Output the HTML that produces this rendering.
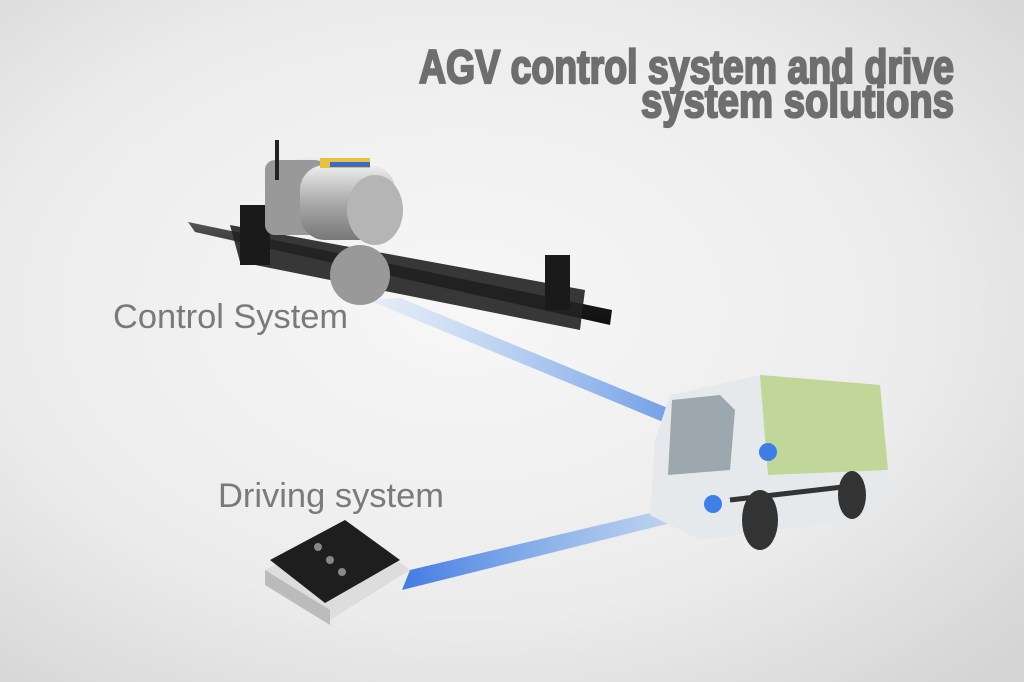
<!DOCTYPE html>
<html><head><meta charset="utf-8"><style>
html,body{margin:0;padding:0;width:1024px;height:682px;overflow:hidden}
</style></head><body>
<svg width="1024" height="682" viewBox="0 0 1024 682" xmlns="http://www.w3.org/2000/svg">
<defs>
<radialGradient id="bg" cx="0.45" cy="0.45" r="0.75">
<stop offset="0" stop-color="#f7f7f7"/><stop offset="0.6" stop-color="#ececec"/><stop offset="1" stop-color="#d4d4d4"/>
</radialGradient>
<linearGradient id="beam1" x1="0" y1="0" x2="1" y2="0">
<stop offset="0" stop-color="#6aa8f0" stop-opacity="0.1"/><stop offset="1" stop-color="#2f6fe0" stop-opacity="0.9"/>
</linearGradient>
<linearGradient id="beam2" x1="0" y1="0" x2="1" y2="0">
<stop offset="0" stop-color="#2f6fe0" stop-opacity="0.9"/><stop offset="1" stop-color="#7ab0f0" stop-opacity="0.3"/>
</linearGradient>
<linearGradient id="axle" x1="0" y1="0" x2="0" y2="1">
<stop offset="0" stop-color="#555"/><stop offset="0.4" stop-color="#222"/><stop offset="1" stop-color="#111"/>
</linearGradient>
<linearGradient id="motor" x1="0" y1="0" x2="0" y2="1">
<stop offset="0" stop-color="#eee"/><stop offset="0.5" stop-color="#aaa"/><stop offset="1" stop-color="#777"/>
</linearGradient>
</defs>
<rect width="1024" height="682" fill="url(#bg)"/>
<polygon points="368,300 400,298 770,450 760,462" fill="url(#beam1)"/>
<polygon points="410,570 402,590 715,512 705,500" fill="url(#beam2)"/>
<polygon points="188,222 195,232 610,325 612,310" fill="url(#axle)"/>
<polygon points="230,225 240,262 580,330 585,290" fill="#222" opacity="0.9"/>
<rect x="240" y="205" width="30" height="60" fill="#1a1a1a"/>
<rect x="545" y="255" width="25" height="55" fill="#1a1a1a"/>
<ellipse cx="310" cy="195" rx="45" ry="38" fill="url(#motor)"/>
<rect x="265" y="160" width="60" height="75" rx="10" fill="#999"/>
<rect x="300" y="165" width="95" height="75" rx="25" fill="url(#motor)"/>
<ellipse cx="375" cy="210" rx="28" ry="35" fill="#b5b5b5"/>
<ellipse cx="360" cy="275" rx="30" ry="30" fill="#999"/>
<rect x="320" y="158" width="50" height="10" fill="#e8c040"/>
<rect x="330" y="162" width="40" height="5" fill="#3a6ad0"/>
<rect x="275" y="140" width="4" height="40" fill="#222"/>
<polygon points="670,395 760,375 880,385 888,490 860,520 700,540 650,515 655,440" fill="#e6e9ec"/>
<polygon points="760,375 880,385 888,470 768,475" fill="#bcd490" opacity="0.9"/>
<polygon points="672,400 720,395 735,410 730,470 668,475" fill="#7d8a94" opacity="0.7"/>
<ellipse cx="760" cy="520" rx="18" ry="30" fill="#333"/>
<ellipse cx="852" cy="495" rx="14" ry="24" fill="#333"/>
<line x1="730" y1="500" x2="860" y2="485" stroke="#333" stroke-width="5"/>
<circle cx="768" cy="452" r="9" fill="#3d7ee8"/>
<circle cx="713" cy="504" r="9" fill="#3d7ee8"/>
<polygon points="265,570 350,525 410,570 330,620" fill="#ddd"/>
<polygon points="265,570 330,610 330,625 265,585" fill="#bbb"/>
<polygon points="270,560 345,520 400,560 325,603" fill="#1e1e1e"/>
<circle cx="318" cy="547" r="4" fill="#888"/><circle cx="330" cy="560" r="4" fill="#888"/><circle cx="342" cy="572" r="4" fill="#888"/>
<text x="419" y="83" textLength="535" lengthAdjust="spacingAndGlyphs" font-family="Liberation Sans, sans-serif" font-weight="bold" font-size="47" fill="#6e6e6e" stroke="#6e6e6e" stroke-width="2.2">AGV control system and drive</text>
<text x="641" y="117" textLength="313" lengthAdjust="spacingAndGlyphs" font-family="Liberation Sans, sans-serif" font-weight="bold" font-size="47" fill="#6e6e6e" stroke="#6e6e6e" stroke-width="2.2">system solutions</text>
<text x="113" y="328" textLength="235" lengthAdjust="spacingAndGlyphs" font-family="Liberation Sans, sans-serif" font-size="34" fill="#7a7a7a">Control System</text>
<text x="218" y="507" textLength="226" lengthAdjust="spacingAndGlyphs" font-family="Liberation Sans, sans-serif" font-size="34" fill="#7a7a7a">Driving system</text>
</svg>
</body></html>
